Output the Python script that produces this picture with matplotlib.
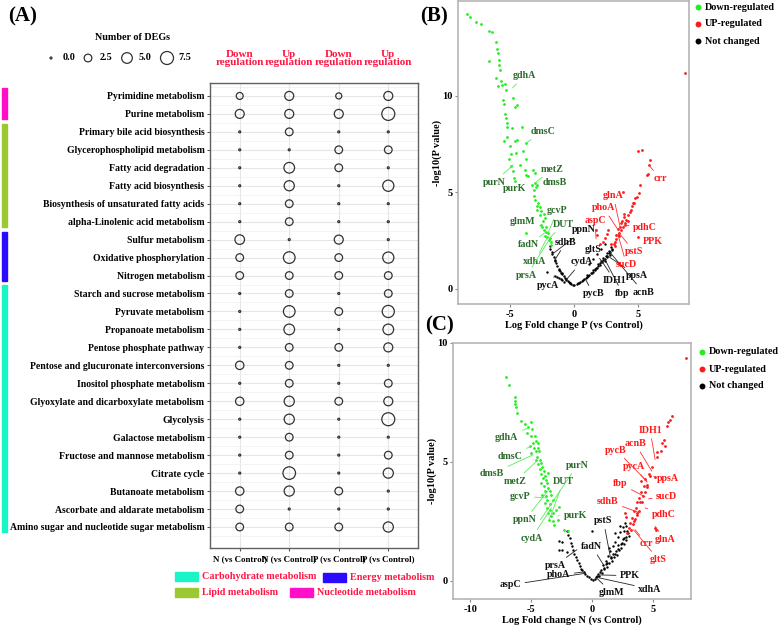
import matplotlib
matplotlib.use('Agg')
import matplotlib.pyplot as plt
from matplotlib.patches import Rectangle
from matplotlib.transforms import blended_transform_factory

plt.rcParams['font.family'] = ['Liberation Serif', 'DejaVu Serif']
plt.rcParams['font.weight'] = 'bold'
plt.rcParams['axes.labelweight'] = 'bold'
plt.rcParams['axes.unicode_minus'] = False

# ---------------- panel A data ----------------
pathways = ['Pyrimidine metabolism', 'Purine metabolism', 'Primary bile acid biosynthesis',
            'Glycerophospholipid metabolism', 'Fatty acid degradation', 'Fatty acid biosynthesis',
            'Biosynthesis of unsaturated fatty acids', 'alpha-Linolenic acid metabolism',
            'Sulfur metabolism', 'Oxidative phosphorylation', 'Nitrogen metabolism',
            'Starch and sucrose metabolism', 'Pyruvate metabolism', 'Propanoate metabolism',
            'Pentose phosphate pathway', 'Pentose and glucuronate interconversions',
            'Inositol phosphate metabolism', 'Glyoxylate and dicarboxylate metabolism', 'Glycolysis',
            'Galactose metabolism', 'Fructose and mannose metabolism', 'Citrate cycle',
            'Butanoate metabolism', 'Ascorbate and aldarate metabolism',
            'Amino sugar and nucleotide sugar metabolism']
comparisons = ['N (vs Control)', 'N (vs Control)', 'P (vs Control)', 'P (vs Control)']
directions = ['Down\nregulation', 'Up\nregulation', 'Down\nregulation', 'Up\nregulation']
n_down = [2, 3.5, 0, 0, 0, 0, 0, 0, 4, 2.5, 2.5, 0, 0, 0, 0, 3, 0, 3, 0, 0, 0, 0, 3, 2.5, 2.5]
n_up = [3.5, 3.5, 2.5, 0, 5, 4.5, 2.5, 2.5, 0, 6, 2.5, 2.5, 6, 5, 2.5, 2.5, 2.5, 4.5, 4.5, 2.5, 2.5, 7, 4.5, 0, 2.5]
p_down = [1.5, 3.5, 0, 2.5, 2.5, 0, 0, 0, 3.5, 2.5, 2.5, 0, 2.5, 0, 2.5, 0, 0, 2.5, 0, 0, 0, 0, 2.5, 0, 2.5]
p_up = [3.5, 7.5, 0, 2.5, 0, 5.5, 0, 0, 0, 5.5, 2.5, 2.5, 6.5, 5, 3.5, 0, 2.5, 3.5, 7.5, 0, 2.5, 4.5, 0, 0, 4.5]
size_breaks = [0.0, 2.5, 5.0, 7.5]

# group name, first row, last row (exclusive), colour
groups = [('Nucleotide metabolism', 0, 2, '#FF10C8'),
          ('Lipid metabolism', 2, 8, '#9AC932'),
          ('Energy metabolism', 8, 11, '#2B0BFF'),
          ('Carbohydrate metabolism', 11, 25, '#1AF5C8')]

# ---------------- panel B data (P vs Control) ----------------
b_down_x = [-8.34, -8.1, -7.63, -7.29, -6.67, -6.38, -6.07, -5.99, -5.94, -6.64, -5.83, -5.83, -5.8, -6.09,
            -5.68, -5.63, -5.94, -5.29, -5.4, -5.57, -4.77, -5.49, -4.48, -4.62, -5.42, -5.35, -5.26, -5.21,
            -4.82, -4.06, -5.23, -5.47, -5.03, -4.58, -4.45, -3.72, -4.9, -4.5, -3.97, -5.1, -3.72, -4.95,
            -4.77, -4.25, -3.86, -3.72, -3.59, -3.2, -3.02, -4.69, -4.6, -3.07, -2.89, -2.97, -3.13, -3.02,
            -2.81, -2.92, -2.68, -2.55, -2.86, -2.68, -2.34, -2.24, -2.42, -3.72, -2.34, -2.16, -2.03, -2.29,
            -2.08, -1.9, -1.98, -1.82, -1.77, -2.6, -2.5, -2.2, -3.3, -3.1]
b_down_y = [14.25, 14.08, 13.8, 13.7, 13.33, 13.32, 12.76, 12.42, 12.21, 11.78, 11.83, 11.57, 11.33, 10.92,
            10.78, 10.53, 10.48, 10.31, 10.6, 9.79, 9.88, 9.57, 9.52, 9.42, 9.05, 8.85, 8.6, 8.36,
            8.31, 8.39, 7.86, 7.67, 7.38, 7.64, 7.7, 7.55, 7.0, 7.03, 7.12, 6.74, 6.74, 6.34,
            6.08, 6.42, 6.13, 5.9, 5.82, 6.17, 6.0, 5.73, 5.57, 5.47, 5.38, 5.26, 4.82, 4.62,
            4.44, 4.27, 4.23, 4.01, 4.1, 3.84, 3.87, 3.66, 3.54, 2.88, 3.06, 2.97, 2.88, 2.75,
            2.68, 2.63, 2.51, 2.41, 2.28, 3.3, 3.2, 3.2, 5.4, 5.1]
b_up_x = [8.67, 5.02, 5.29, 5.94, 5.85, 5.68, 5.75, 5.16, 5.07, 4.95, 4.64, 3.86,
          3.18, 3.44, 3.7, 3.83, 3.96, 4.09, 4.22, 4.43, 4.53, 4.66, 4.79, 3.3, 3.5, 3.6, 3.75, 3.9,
          4.0, 4.2, 3.4, 3.55, 3.65, 3.1, 3.25, 3.9, 4.35,
          1.72, 1.8, 2.42, 2.68, 2.6, 2.3, 2.0, 5.03, 3.2, 2.9]
b_up_y = [11.17, 7.15, 7.2, 6.68, 6.4, 5.9, 5.95, 5.39, 4.98, 4.75, 4.44, 5.04,
          2.45, 2.79, 3.06, 3.23, 3.4, 3.58, 3.83, 4.09, 4.27, 4.44, 4.7, 2.6, 2.9, 3.2, 3.5, 3.7,
          3.3, 3.5, 3.1, 2.75, 3.4, 2.3, 2.8, 3.9, 4.0,
          3.06, 2.8, 2.64, 3.06, 2.85, 2.45, 2.35, 2.68, 2.2, 2.35]
b_ns_x = [-1.9, -1.85, -1.75, -1.7, -1.6, -1.5, -1.4, -1.3, -1.2, -1.1, -1.0, -0.9, -0.8, -0.7, -0.6, -0.5,
          -0.4, -0.3, -0.2, -0.1, 0.0, -1.51, -1.35, -1.2, -1.05, -0.9, -0.75, -2.1,
          0.2, 0.4, 0.6, 0.8, 1.0, 1.2, 1.4, 1.6, 1.8, 2.0, 2.2, 2.4, 2.6, 2.8, 3.0, 1.0, 1.5, 2.0, 2.5,
          2.7, 2.3, 1.7, 1.3, 2.9, 2.1, 1.9, 2.6, 2.4, 2.8, 1.2, 1.5, 1.8, 2.1, 2.4,
          0.3, 0.5, 0.7, 0.9, 1.1, 1.45, 1.65, 1.85, 2.25, 2.55, 2.75, 2.95, -1.45, -1.15, -0.95, -0.65, -0.35]
b_ns_y = [2.2, 2.05, 1.9, 1.8, 1.65, 1.5, 1.35, 1.2, 1.05, 0.95, 0.85, 0.75, 0.65, 0.55, 0.48, 0.42,
          0.36, 0.3, 0.26, 0.22, 0.2, 0.67, 0.6, 0.55, 0.5, 0.44, 0.38, 0.9,
          0.25, 0.32, 0.4, 0.5, 0.6, 0.72, 0.85, 0.98, 1.1, 1.25, 1.4, 1.55, 1.72, 1.9, 2.05, 0.7, 1.0, 1.35, 1.7,
          1.95, 1.6, 1.1, 0.85, 2.15, 1.45, 1.3, 1.85, 1.45, 1.75, 1.3, 1.55, 1.8, 2.05, 2.3,
          0.3, 0.38, 0.46, 0.58, 0.68, 0.9, 1.05, 1.2, 1.5, 1.65, 1.85, 2.0, 1.42, 1.0, 0.8, 0.52, 0.33]
# gene, text x, text y, gene x, gene y, class
b_genes = [('gdhA', -3.88, 11.04, -4.8, 10.4, 'down'), ('dmsC', -2.45, 8.15, -3.72, 7.55, 'down'),
           ('metZ', -1.67, 6.2, -3.02, 5.5, 'down'), ('dmsB', -1.48, 5.51, -2.97, 5.26, 'down'),
           ('purN', -6.23, 5.53, -4.74, 6.42, 'down'), ('purK', -4.61, 5.22, -4.2, 5.6, 'down'),
           ('gcvP', -1.3, 4.06, -2.03, 2.88, 'down'), ('glmM', -4.01, 3.49, -2.4, 3.23, 'down'),
           ('DUT', -0.83, 3.35, -1.9, 2.63, 'down'), ('fadN', -3.57, 2.28, -2.29, 2.9, 'down'),
           ('xdhA', -3.05, 1.41, -2.08, 2.68, 'down'), ('prsA', -3.7, 0.69, -1.98, 2.51, 'down'),
           ('ppnN', 0.8, 3.06, -1.7, 1.8, 'ns'), ('sdhB', -0.63, 2.42, -1.5, 1.5, 'ns'),
           ('cydA', 0.6, 1.41, -0.6, 0.48, 'ns'), ('gltS', 1.51, 2.02, 2.2, 1.4, 'ns'),
           ('pycA', -2.06, 0.17, -1.51, 0.67, 'ns'), ('pycB', 1.51, -0.26, 0.9, 0.5, 'ns'),
           ('IDH1', 3.2, 0.43, 2.2, 1.4, 'ns'), ('fbp', 3.8, -0.26, 2.4, 1.55, 'ns'),
           ('ppsA', 4.9, 0.69, 2.6, 1.72, 'ns'), ('acnB', 5.42, -0.17, 2.8, 1.9, 'ns'),
           ('crr', 6.77, 5.7, 5.85, 6.4, 'up'), ('glnA', 3.07, 4.83, 3.6, 3.2, 'up'),
           ('phoA', 2.29, 4.21, 3.4, 3.1, 'up'), ('aspC', 1.64, 3.54, 1.72, 2.6, 'up'),
           ('pdhC', 5.55, 3.18, 3.9, 3.3, 'up'), ('PPK', 6.12, 2.45, 5.03, 2.68, 'up'),
           ('pstS', 4.71, 1.93, 3.5, 2.9, 'up'), ('sucD', 4.11, 1.24, 3.44, 2.79, 'up')]

# ---------------- panel C data (N vs Control) ----------------
c_down_x = [-7.05, -6.8, -6.31, -6.28, -6.31, -6.23, -6.12, -5.79, -5.52, -5.03, -5.27, -4.89, -5.33, -5.05,
            -4.7, -4.62, -4.84, -4.43, -5.11, -4.75, -4.56, -4.34, -4.97, -4.51, -4.29, -4.21, -4.42, -4.07,
            -4.29, -3.93, -3.6, -4.15, -4.02, -3.8, -4.15, -3.69, -3.96, -3.6, -3.88, -3.47, -4.07, -3.74,
            -3.33, -3.69, -3.88, -3.47, -3.2, -3.66, -3.42, -3.61, -3.2, -2.92, -2.7, -3.33, -3.52, -3.2,
            -3.11, -2.79, -2.32, -1.97, -4.6, -4.4, -3.9]
c_down_y = [8.58, 8.23, 7.71, 7.55, 7.43, 7.29, 7.07, 6.72, 6.58, 6.68, 6.46, 6.4, 6.23, 6.09,
            6.09, 5.88, 5.81, 5.81, 5.67, 5.6, 5.46, 5.46, 5.39, 5.22, 5.1, 4.97, 4.9, 4.8,
            4.69, 4.62, 4.54, 4.48, 4.33, 4.26, 4.12, 4.12, 3.98, 3.91, 3.77, 3.77, 3.63, 3.56,
            3.63, 3.39, 3.28, 3.25, 3.42, 3.07, 2.97, 2.85, 2.85, 2.99, 3.11, 2.71, 2.57, 2.5,
            2.36, 2.57, 2.12, 2.08, 5.1, 5.6, 4.4]
c_up_x = [7.7, 6.53, 6.4, 6.25, 6.15, 5.85, 5.7, 5.93, 5.63, 5.3, 5.35, 4.89, 4.62, 4.75, 5.16, 4.34, 4.48,
          4.21, 4.53, 4.34, 3.99, 4.16, 3.8, 3.94, 3.66, 4.08, 3.61, 3.8, 3.47, 3.66, 3.25, 3.52, 3.11,
          3.33, 2.98, 3.2, 2.84, 2.7, 2.78, 5.16, 5.25, 4.0, 3.7, 3.4]
c_up_y = [9.38, 6.95, 6.78, 6.67, 6.5, 5.92, 5.8, 5.68, 5.47, 5.4, 5.19, 4.77, 4.49, 4.4, 4.35, 4.28, 4.05,
          4.0, 3.95, 3.75, 3.74, 3.55, 3.5, 3.3, 3.3, 3.3, 3.08, 2.95, 2.93, 2.85, 2.66, 2.6, 2.45,
          2.38, 2.24, 2.15, 2.03, 2.87, 2.7, 2.24, 2.15, 4.2, 2.75, 2.5]
c_ns_x = [-2.7, -2.5, -2.05, -1.97, -1.83, -1.75, -1.65, -1.56, -1.45, -1.35, -1.23, -1.1, -1.0, -0.9,
          -0.8, -0.68, -0.55, -0.4, -0.25, -0.1, -2.7, -2.49, -2.1, -0.03,
          0.1, 0.3, 0.5, 0.7, 0.9, 1.1, 1.3, 1.5, 1.7, 1.9, 2.1, 2.3, 2.5, 2.7, 0.8, 1.2, 1.6, 2.0, 2.4,
          2.8, 3.0, 1.0, 1.4, 1.8, 2.2, 2.6, 2.9, 2.5, 2.1, 1.7, 0.6, 1.4, 1.9, 2.3, 2.6, 2.8,
          0.2, 0.4, 0.65, 0.95, 1.25, 1.55, 1.85, 2.15, 2.45, 2.75, 1.15, 1.55, 1.95, 2.35, 2.65, 2.85]
c_ns_y = [1.69, 1.65, 2.08, 1.95, 1.8, 1.6, 1.45, 1.31, 1.15, 1.0, 0.89, 0.75, 0.62, 0.5,
          0.45, 0.39, 0.3, 0.22, 0.15, 0.08, 1.31, 1.31, 1.2, 2.08,
          0.05, 0.15, 0.3, 0.45, 0.65, 0.85, 1.05, 1.25, 1.45, 1.65, 1.85, 2.05, 2.25, 2.45, 0.35, 0.6, 0.85, 1.1, 1.4,
          1.7, 1.9, 0.5, 0.75, 1.0, 1.3, 1.55, 2.0, 1.75, 1.5, 1.15, 0.2, 1.4, 2.0, 2.3, 2.1, 2.3,
          0.1, 0.22, 0.38, 0.55, 0.75, 0.95, 1.15, 1.35, 1.6, 1.85, 0.7, 1.0, 1.25, 1.55, 1.8, 2.1]
c_genes = [('gdhA', -6.99, 6.02, -5.22, 6.44, 'down'), ('dmsC', -6.72, 5.25, -4.95, 5.67, 'down'),
           ('dmsB', -8.22, 4.5, -4.84, 5.3, 'down'), ('metZ', -6.31, 4.19, -4.54, 5.03, 'down'),
           ('gcvP', -5.9, 3.56, -3.72, 3.49, 'down'), ('ppnN', -5.49, 2.57, -3.6, 3.8, 'down'),
           ('cydA', -4.95, 1.8, -3.34, 3.07, 'down'), ('purN', -1.2, 4.87, -4.24, 2.57, 'down'),
           ('DUT', -2.35, 4.19, -3.5, 2.6, 'down'), ('purK', -1.39, 2.74, -2.76, 2.74, 'down'),
           ('pstS', 0.93, 2.53, 1.48, 1.03, 'ns'), ('fadN', -0.03, 1.45, 0.93, 0.68, 'ns'),
           ('prsA', -3.03, 0.65, -1.25, 1.31, 'ns'), ('aspC', -6.72, -0.17, -0.57, 0.32, 'ns'),
           ('phoA', -2.76, 0.25, -0.6, 0.38, 'ns'), ('PPK', 3.11, 0.22, 0.66, 0.25, 'ns'),
           ('glmM', 1.61, -0.48, 0.38, 0.11, 'ns'), ('xdhA', 4.75, -0.34, 0.38, 0.15, 'ns'),
           ('IDH1', 4.75, 6.34, 5.16, 5.1, 'up'), ('acnB', 3.52, 5.78, 4.89, 4.61, 'up'),
           ('pycB', 1.97, 5.5, 4.48, 4.19, 'up'), ('pycA', 3.39, 4.82, 4.5, 4.15, 'up'),
           ('ppsA', 6.25, 4.3, 5.03, 4.4, 'up'), ('fbp', 2.3, 4.09, 4.34, 3.53, 'up'),
           ('sucD', 6.12, 3.56, 4.62, 3.45, 'up'), ('sdhB', 1.26, 3.35, 3.93, 2.86, 'up'),
           ('pdhC', 5.85, 2.78, 4.34, 3.07, 'up'), ('crr', 4.48, 1.56, 3.52, 2.15, 'up'),
           ('glnA', 5.98, 1.73, 5.16, 2.29, 'up'), ('gltS', 5.44, 0.89, 3.39, 2.15, 'up')]

status_labels = ['Down-regulated', 'UP-regulated', 'Not changed']
point_col = {'down': '#22EE22', 'up': '#FF1A1A', 'ns': '#000000'}
text_col = {'down': '#2C6B2C', 'up': '#FF1A1A', 'ns': '#111111'}
line_col = {'down': '#55EE55', 'up': '#FF3030', 'ns': '#222222'}
RED_TXT = '#FF1744'


def deg_size(v):
    return 2 + 11.4 * v


fig = plt.figure(figsize=(7.78, 6.27), dpi=100)
bg = fig.add_axes([0, 0, 1, 1])
bg.set_xlim(0, 778)
bg.set_ylim(627, 0)
bg.axis('off')

# ---------------- panel A ----------------
ax = fig.add_axes([210 / 778, 1 - 548 / 627, 208 / 778, 465 / 627])
nrow = len(pathways)
rows = [nrow - i for i in range(nrow)]
for j, vals in enumerate([n_down, n_up, p_down, p_up]):
    ax.scatter([j + 1] * nrow, rows, s=[deg_size(v) for v in vals], facecolors='none',
               edgecolors='#333333', linewidths=0.9, zorder=3)
ax.set_xlim(0.4, 4.6)
ax.set_ylim(-0.17, nrow + 0.72)
ax.set_yticks(rows)
ax.set_yticklabels(pathways, fontsize=7.0)
ax.set_yticks([r - 0.5 for r in rows] + [nrow + 0.5], minor=True)
ax.set_xticks([1, 2, 3, 4])
ax.set_xticklabels(comparisons, fontsize=6.4)
ax.tick_params(which='major', length=2.5, color='#555555', pad=1.5)
ax.tick_params(axis='x', pad=3)
ax.tick_params(which='minor', length=0)
ax.grid(which='major', color='#E6E6E6', lw=0.8)
ax.grid(which='minor', axis='y', color='#F0F0F0', lw=0.5)
ax.set_axisbelow(True)
for sp in ax.spines.values():
    sp.set_color('#606060')
    sp.set_linewidth(1.0)
top = blended_transform_factory(ax.transData, ax.transAxes)
for j, d in enumerate(directions):
    ax.text(j + 1, 1.052, d, transform=top, ha='center', va='center', color=RED_TXT,
            fontsize=8, linespacing=0.9)

side = blended_transform_factory(fig.transFigure, ax.transData)
for name, r0, r1, col in groups:
    y_hi = rows[r0] + 0.45
    y_lo = rows[r1 - 1] - 0.3
    ax.add_patch(Rectangle((2 / 778, y_lo), 5 / 778, y_hi - y_lo, transform=side,
                           color=col, clip_on=False))

# size legend
bg.text(133, 38, 'Number of DEGs', ha='center', va='center', fontsize=7.3)
for v, xc in zip(size_breaks, [51, 88, 127, 167]):
    bg.scatter([xc], [58], s=deg_size(v), facecolors='none', edgecolors='#333333', linewidths=0.9)
    bg.text(xc + 18, 58, f'{v:.1f}', ha='center', va='center', fontsize=7.3)

# group legend (clipped like the original composite)
leg = fig.add_axes([0, 0, 438 / 778, 80 / 627])
leg.set_xlim(0, 438)
leg.set_ylim(80, 0)
leg.axis('off')
leg_pos = {'Carbohydrate metabolism': (175, 25), 'Energy metabolism': (323, 26),
           'Lipid metabolism': (175, 41), 'Nucleotide metabolism': (290, 41)}
for name, r0, r1, col in groups:
    x0, y0 = leg_pos[name]
    leg.add_patch(Rectangle((x0, y0), 23, 9, color=col))
    leg.text(x0 + 27, y0 + 4.5, name, color=RED_TXT, fontsize=7.3, va='center', ha='left', clip_on=True)

bg.text(8, 16, '(A)', fontsize=15, va='center', ha='left')


# ---------------- volcano panels ----------------
def volcano(ax, dx, dy, ux, uy, nx, ny, genes, xlabel, xlim, ylim, xticks, yticks):
    ax.scatter(nx, ny, s=3, color=point_col['ns'], linewidths=0, zorder=2)
    ax.scatter(dx, dy, s=4, color=point_col['down'], linewidths=0, zorder=2)
    ax.scatter(ux, uy, s=4, color=point_col['up'], linewidths=0, zorder=2)
    for g, tx, ty, gx, gy, k in genes:
        ax.annotate(g, xy=(gx, gy), xytext=(tx, ty), ha='center', va='center', fontsize=7.2,
                    color=text_col[k], zorder=4,
                    arrowprops=dict(arrowstyle='-', color=line_col[k], lw=0.6,
                                    shrinkA=1, shrinkB=0))
    ax.set_xlim(*xlim)
    ax.set_ylim(*ylim)
    ax.set_xticks(xticks)
    ax.set_yticks(yticks)
    ax.tick_params(labelsize=7.5, length=2.5, color='#888888', pad=1.5)
    ax.set_xlabel(xlabel, fontsize=7.5, labelpad=1)
    ax.set_ylabel('-log10(P value)', fontsize=7.5, labelpad=0)
    for sp in ax.spines.values():
        sp.set_color('#B5B5B5')
        sp.set_linewidth(1.2)


axb = fig.add_axes([458 / 778, 1 - 304 / 627, 231 / 778, 303 / 627])
volcano(axb, b_down_x, b_down_y, b_up_x, b_up_y, b_ns_x, b_ns_y, b_genes,
        'Log Fold change P (vs Control)', (-9.06, 8.98), (-0.78, 14.9), [-5, 0, 5], [0, 5, 10])

axc = fig.add_axes([453 / 778, 1 - 599 / 627, 238 / 778, 256 / 627])
volcano(axc, c_down_x, c_down_y, c_up_x, c_up_y, c_ns_x, c_ns_y, c_genes,
        'Log Fold change N (vs Control)', (-11.4, 8.1), (-0.76, 10.0), [-10, -5, 0, 5], [0, 5, 10])

for (lx, ly0) in [(698, 7), (702, 352)]:
    for i, (lab, k) in enumerate(zip(status_labels, ['down', 'up', 'ns'])):
        bg.scatter([lx], [ly0 + 17 * i], s=18, color=point_col[k], linewidths=0)
        bg.text(lx + 7, ly0 + 17 * i, lab, fontsize=7.3, va='center', ha='left')

bg.text(420, 16, '(B)', fontsize=15, va='center', ha='left')
bg.text(425, 325, '(C)', fontsize=15, va='center', ha='left')

fig.savefig('out.png', dpi=100)
